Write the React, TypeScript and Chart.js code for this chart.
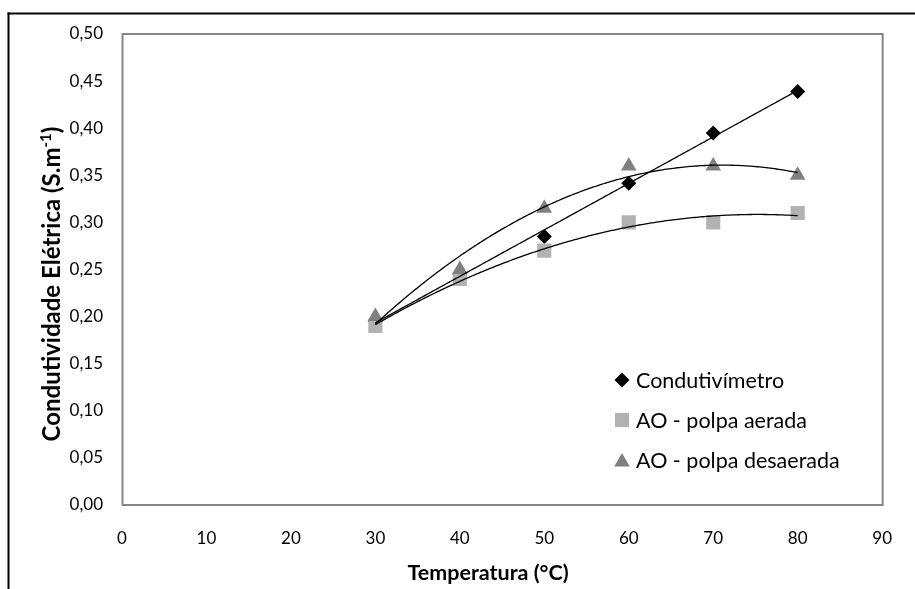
import React, { useEffect, useRef } from "react";
import { Chart, registerables } from "chart.js";

Chart.register(...registerables);

// ---- data ----
const temperatures = [30, 40, 50, 60, 70, 80];
const condutivimetro = [0.195, 0.245, 0.285, 0.3415, 0.395, 0.439];
const polpaAerada = [0.19, 0.24, 0.27, 0.3, 0.3, 0.31];
const polpaDesaerada = [0.2, 0.25, 0.315, 0.36, 0.36, 0.35];
const seriesNames = ["Condutivímetro", "AO - polpa aerada", "AO - polpa desaerada"];
const trendDegrees = [1, 2, 2];

const xTickValues = [0, 10, 20, 30, 40, 50, 60, 70, 80, 90];
const yTickValues = [0, 0.05, 0.1, 0.15, 0.2, 0.25, 0.3, 0.35, 0.4, 0.45, 0.5];
const yTickLabels = ["0,00", "0,05", "0,10", "0,15", "0,20", "0,25", "0,30", "0,35", "0,40", "0,45", "0,50"];

const xTitle = "Temperatura (°C)";
const yTitleMain = "Condutividade Elétrica (S.m";
const yTitleSup = "-1";
const yTitleEnd = ")";

const FONT = "Lato, 'Open Sans', sans-serif";

// least squares polynomial fit
function polyfit(xs: number[], ys: number[], deg: number): number[] {
  const n = deg + 1;
  const A: number[][] = [];
  for (let r = 0; r < n; r++) {
    const row: number[] = [];
    for (let c = 0; c < n; c++) {
      let s = 0;
      for (let i = 0; i < xs.length; i++) s += Math.pow(xs[i], r + c);
      row.push(s);
    }
    let b = 0;
    for (let i = 0; i < xs.length; i++) b += Math.pow(xs[i], r) * ys[i];
    row.push(b);
    A.push(row);
  }
  for (let col = 0; col < n; col++) {
    let piv = col;
    for (let r = col + 1; r < n; r++) if (Math.abs(A[r][col]) > Math.abs(A[piv][col])) piv = r;
    [A[col], A[piv]] = [A[piv], A[col]];
    for (let r = 0; r < n; r++) {
      if (r === col) continue;
      const f = A[r][col] / A[col][col];
      for (let c = col; c <= n; c++) A[r][c] -= f * A[col][c];
    }
  }
  return A.map((row, i) => row[n] / row[i]);
}

function drawMarker(ctx: CanvasRenderingContext2D, style: string, x: number, y: number, r: number, color: string) {
  ctx.save();
  ctx.fillStyle = color;
  ctx.beginPath();
  if (style === "rectRot") {
    ctx.moveTo(x - r, y);
    ctx.lineTo(x, y - r);
    ctx.lineTo(x + r, y);
    ctx.lineTo(x, y + r);
  } else if (style === "rect") {
    const s = Math.SQRT1_2 * r;
    ctx.rect(x - s, y - s, 2 * s, 2 * s);
  } else {
    const w = Math.sin(Math.PI / 3) * r;
    ctx.moveTo(x, y - r);
    ctx.lineTo(x + w, y + r / 2);
    ctx.lineTo(x - w, y + r / 2);
  }
  ctx.closePath();
  ctx.fill();
  ctx.restore();
}

const extras = {
  id: "extras",
  beforeDraw(chart: any) {
    const ctx = chart.ctx as CanvasRenderingContext2D;
    ctx.save();
    ctx.fillStyle = "#ffffff";
    ctx.fillRect(0, 0, chart.width, chart.height);
    ctx.fillStyle = "#000000";
    ctx.fillRect(7.5, 12.5, chart.width, 2);
    ctx.fillRect(7.5, 12.5, 2, chart.height);
    ctx.restore();
  },
  beforeDatasetsDraw(chart: any) {
    const ctx = chart.ctx as CanvasRenderingContext2D;
    const a = chart.chartArea;
    ctx.save();
    ctx.strokeStyle = "#868686";
    ctx.lineWidth = 2;
    ctx.strokeRect(a.left + 0.5, a.top, a.right - a.left, a.bottom - a.top);
    ctx.restore();
  },
  afterDatasetsDraw(chart: any) {
    const ctx = chart.ctx as CanvasRenderingContext2D;
    const xs = chart.scales.x;
    const ys = chart.scales.y;
    ctx.save();
    ctx.strokeStyle = "#000000";
    ctx.lineWidth = 1.3;
    chart.data.datasets.forEach((ds: any, i: number) => {
      const px = ds.data.map((p: any) => p.x);
      const py = ds.data.map((p: any) => p.y);
      const coef = polyfit(px, py, trendDegrees[i]);
      const x0 = Math.min(...px);
      const x1 = Math.max(...px);
      ctx.beginPath();
      for (let k = 0; k <= 200; k++) {
        const x = x0 + ((x1 - x0) * k) / 200;
        let y = 0;
        for (let d = 0; d < coef.length; d++) y += coef[d] * Math.pow(x, d);
        const X = xs.getPixelForValue(x);
        const Y = ys.getPixelForValue(y);
        if (k === 0) ctx.moveTo(X, Y);
        else ctx.lineTo(X, Y);
      }
      ctx.stroke();
    });
    ctx.restore();
  },
  afterDraw(chart: any) {
    const ctx = chart.ctx as CanvasRenderingContext2D;
    ctx.save();
    ctx.fillStyle = "#000000";
    // x axis title
    ctx.font = `bold 21.5px ${FONT}`;
    ctx.textAlign = "center";
    ctx.textBaseline = "alphabetic";
    ctx.fillText(xTitle, 488, 580);
    // y axis title with superscript
    const fMain = `bold 24px ${FONT}`;
    const fSup = `bold 15px ${FONT}`;
    ctx.font = fMain;
    const wMain = ctx.measureText(yTitleMain).width;
    const wEnd = ctx.measureText(yTitleEnd).width;
    ctx.font = fSup;
    const wSup = ctx.measureText(yTitleSup).width;
    const W = wMain + wSup + wEnd;
    ctx.translate(60, 284);
    ctx.rotate(-Math.PI / 2);
    ctx.textAlign = "left";
    let cx = -W / 2;
    ctx.font = fMain;
    ctx.fillText(yTitleMain, cx, 0);
    cx += wMain;
    ctx.font = fSup;
    ctx.fillText(yTitleSup, cx, -9);
    cx += wSup;
    ctx.font = fMain;
    ctx.fillText(yTitleEnd, cx, 0);
    ctx.setTransform(1, 0, 0, 1, 0, 0);
    // legend
    const legendX = 622;
    const legendTop = 380;
    const legendStep = 40;
    ctx.font = `21.5px ${FONT}`;
    ctx.textAlign = "left";
    chart.data.datasets.forEach((ds: any, i: number) => {
      const cy = legendTop + i * legendStep;
      drawMarker(ctx, ds.pointStyle, legendX, cy + (ds.pointStyle === "triangle" ? 2 : 0), ds.pointRadius, ds.backgroundColor);
      ctx.fillStyle = "#000000";
      ctx.fillText(ds.label, legendX + 14, cy + 7.5);
    });
    ctx.restore();
  },
};

export default function App() {
  const ref = useRef<HTMLCanvasElement>(null);
  useEffect(() => {
    const canvas = ref.current;
    if (!canvas) return;
    const mk = (vals: number[]) => temperatures.map((x, i) => ({ x, y: vals[i] }));
    const chart = new Chart(canvas, {
      type: "scatter",
      data: {
        datasets: [
          {
            label: seriesNames[0],
            data: mk(condutivimetro),
            order: 3,
            pointStyle: "rectRot",
            pointRadius: 7.5,
            pointHoverRadius: 7.5,
            backgroundColor: "#000000",
            borderColor: "#000000",
            borderWidth: 0,
          },
          {
            label: seriesNames[1],
            data: mk(polpaAerada),
            order: 2,
            pointStyle: "rect",
            pointRadius: 10,
            pointHoverRadius: 10,
            backgroundColor: "#b2b2b2",
            borderColor: "#b2b2b2",
            borderWidth: 0,
          },
          {
            label: seriesNames[2],
            data: mk(polpaDesaerada),
            order: 1,
            pointStyle: "triangle",
            pointRadius: 9,
            pointHoverRadius: 9,
            backgroundColor: "#808080",
            borderColor: "#808080",
            borderWidth: 0,
          },
        ] as any,
      },
      options: {
        responsive: false,
        animation: false,
        devicePixelRatio: 1,
        layout: { padding: { top: 34, right: 13, left: 0, bottom: 0 } },
        plugins: { legend: { display: false }, tooltip: { enabled: false } },
        scales: {
          x: {
            type: "linear",
            min: 0,
            max: 90,
            afterBuildTicks: (s: any) => {
              s.ticks = xTickValues.map((v) => ({ value: v }));
            },
            afterFit: (s: any) => {
              s.height = 84;
            },
            ticks: {
              callback: (v: any) => String(v),
              font: { family: FONT, size: 17 },
              color: "#000000",
              padding: 23,
              maxRotation: 0,
              autoSkip: false,
            },
            grid: { display: false, drawTicks: false },
            border: { display: false },
          },
          y: {
            type: "linear",
            min: 0,
            max: 0.5,
            afterBuildTicks: (s: any) => {
              s.ticks = yTickValues.map((v) => ({ value: v }));
            },
            afterFit: (s: any) => {
              s.width = 122;
            },
            ticks: {
              callback: (_v: any, i: number) => yTickLabels[i],
              font: { family: FONT, size: 17 },
              color: "#000000",
              padding: 19,
              autoSkip: false,
            },
            grid: { display: false, drawTicks: false },
            border: { display: false },
          },
        },
      } as any,
      plugins: [extras as any],
    });
    return () => chart.destroy();
  }, []);
  return (
    <div style={{ position: "absolute", left: 0, top: 0, width: 915, height: 589, background: "#ffffff" }}>
      <canvas ref={ref} width={915} height={589} style={{ display: "block", width: 915, height: 589 }} />
    </div>
  );
}
